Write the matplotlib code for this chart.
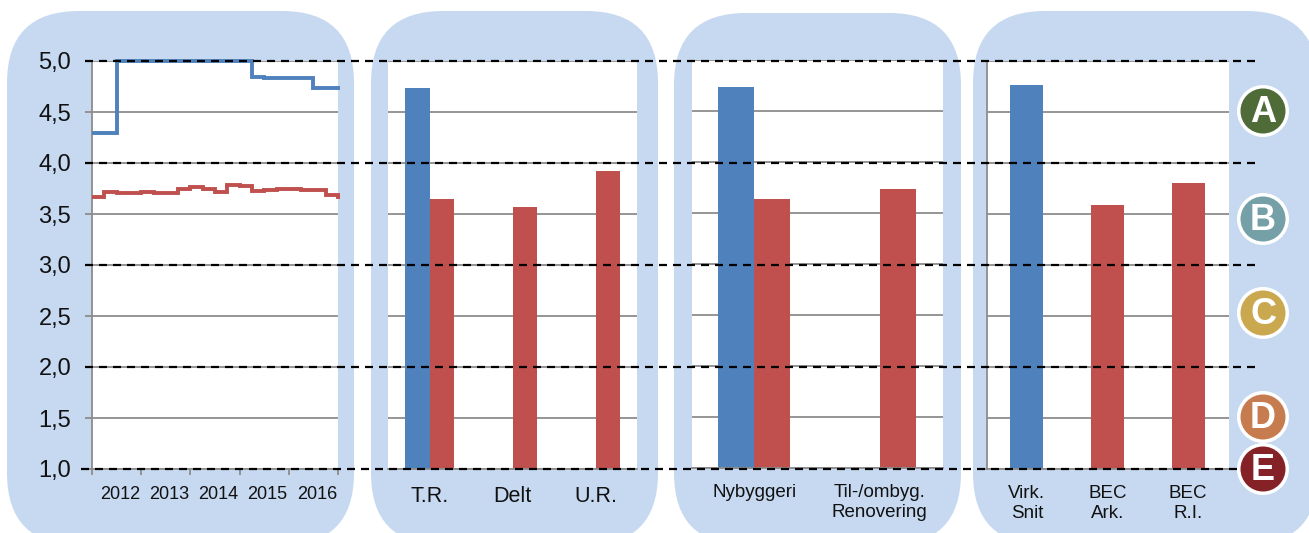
import numpy as np
import matplotlib
matplotlib.use("Agg")
import matplotlib.pyplot as plt
from matplotlib.patches import FancyBboxPatch, Circle

plt.rcParams['font.family'] = ['Liberation Sans', 'DejaVu Sans']

W, H = 1309, 533

# quarterly values, 2012 - 2016 (line runs a little past the plot area)
quarters = np.append(np.arange(21) / 4, 5.04)
blue_line = [4.29, 4.29, 5.0, 5.0, 5.0, 5.0, 5.0, 5.0, 5.0, 5.0, 5.0, 5.0, 5.0,
             4.84, 4.83, 4.83, 4.83, 4.83, 4.74, 4.74, 4.74, 4.74]
red_line = [3.67, 3.72, 3.71, 3.71, 3.72, 3.71, 3.71, 3.75, 3.76, 3.75, 3.72, 3.78, 3.77,
            3.73, 3.74, 3.75, 3.75, 3.74, 3.74, 3.69, 3.67, 3.67]
years = ['2012', '2013', '2014', '2015', '2016']

cats_2 = ['T.R.', 'Delt', 'U.R.']
blue_2 = [4.74, np.nan, np.nan]
red_2 = [3.65, 3.57, 3.92]

cats_3 = ['Nybyggeri', 'Til-/ombyg.\nRenovering']
blue_3 = [4.74, np.nan]
red_3 = [3.64, 3.74]

cats_4 = ['Virk.\nSnit', 'BEC\nArk.', 'BEC\nR.I.']
vals_4 = [4.76, 3.59, 3.80]
colors_4 = ['#4F81BD', '#C0504D', '#C0504D']

yticks = [1, 1.5, 2, 2.5, 3, 3.5, 4, 4.5, 5]
ylabels = ['1,0', '1,5', '2,0', '2,5', '3,0', '3,5', '4,0', '4,5', '5,0']
grades = ['A', 'B', 'C', 'D', 'E']
grade_colors = ['#4F6B38', '#75A0A8', '#C9A850', '#C77C50', '#842228']
grade_y = [111, 219, 313, 417, 469]

BLUE = '#4F81BD'
RED = '#C0504D'
GRID = '#8C8C8C'
PANEL = '#C6D9F1'
TEXT = '#111111'

fig = plt.figure(figsize=(W / 100, H / 100), dpi=100, facecolor='white')

# background layer in pixels
bg = fig.add_axes([0, 0, 1, 1], zorder=0)
bg.set_xlim(0, W)
bg.set_ylim(H, 0)
bg.axis('off')
R = 72
for x0, x1, y0 in [(7, 354, 11), (371, 658, 11), (674, 961, 13), (973, 1318, 11)]:
    bg.add_patch(FancyBboxPatch((x0 + R, y0 + R), x1 - x0 - 2 * R, 545 - y0 - 2 * R,
                                boxstyle=f'round,pad={R},rounding_size={R}',
                                fc=PANEL, ec='none'))


def make_axes(x0, x1, top=61, bottom=469):
    ax = fig.add_axes([x0 / W, 1 - bottom / H, (x1 - x0) / W, (bottom - top) / H], zorder=1)
    ax.set_facecolor('white')
    ax.set_ylim(1, 5)
    ax.set_yticks(yticks)
    ax.grid(axis='y', color=GRID, lw=1.3, zorder=1)
    ax.set_axisbelow(True)
    for s in ['top', 'right', 'left']:
        ax.spines[s].set_visible(False)
    ax.spines['bottom'].set_color(GRID)
    ax.spines['bottom'].set_linewidth(1.3)
    ax.tick_params(axis='y', length=0, labelleft=False)
    ax.tick_params(axis='x', length=0)
    return ax


# panel 1: lines
ax1 = make_axes(92, 338)
ax1.set_xlim(0, 5)
for vals, col in [(blue_line, BLUE), (red_line, RED)]:
    ax1.step(quarters, vals, where='post', color=col, lw=2.8, clip_on=False, zorder=3,
             solid_joinstyle='miter', solid_capstyle='butt')
ax1.spines['left'].set_visible(True)
ax1.spines['left'].set_color(GRID)
ax1.spines['left'].set_linewidth(1.3)
ax1.set_yticks(yticks)
ax1.set_yticklabels(ylabels)
ax1.tick_params(axis='y', length=5, width=1.3, color=GRID, labelleft=True, labelsize=17,
                pad=10, labelcolor=TEXT)
ax1.set_xticks(range(6))
ax1.set_xticklabels([])
ax1.tick_params(axis='x', length=4, width=1.3, color=GRID)
ax1.set_xticks(np.arange(5) + 0.57, labels=years, minor=True)
ax1.tick_params(axis='x', which='minor', length=0, labelsize=13, pad=12, labelcolor=TEXT)

# panel 2: clustered bars
ax2 = make_axes(388, 637)
x2 = np.arange(len(cats_2))
ax2.bar(x2 - 0.145, blue_2, 0.29, color=BLUE, zorder=2)
ax2.bar(x2 + 0.145, red_2, 0.29, color=RED, zorder=2)
ax2.set_xlim(-0.5, 2.5)
ax2.set_ylim(1, 5)
ax2.set_xticks(x2, labels=cats_2)
ax2.tick_params(axis='x', labelsize=15.5, pad=12, labelcolor=TEXT)

# panel 3
ax3 = make_axes(691.5, 942.5, top=60, bottom=468)
x3 = np.arange(len(cats_3))
ax3.bar(x3 - 0.143, blue_3, 0.286, color=BLUE, zorder=2)
ax3.bar(x3 + 0.143, red_3, 0.286, color=RED, zorder=2)
ax3.set_xlim(-0.5, 1.5)
ax3.set_ylim(1, 5)
ax3.set_xticks(x3, labels=cats_3)
ax3.tick_params(axis='x', labelsize=13.5, pad=11.5, labelcolor=TEXT)

# panel 4
ax4 = make_axes(986.5, 1228.5)
x4 = np.arange(len(cats_4))
ax4.bar(x4, vals_4, 0.41, color=colors_4, zorder=2)
ax4.set_xlim(-0.5, 2.5)
ax4.set_ylim(1, 5)
ax4.spines['left'].set_visible(True)
ax4.spines['left'].set_color(GRID)
ax4.spines['left'].set_linewidth(1.3)
ax4.set_xticks(x4, labels=cats_4)
ax4.tick_params(axis='x', labelsize=13.5, pad=11.5, labelcolor=TEXT)
for ax in (ax3, ax4):
    for t in ax.get_xticklabels():
        t.set_linespacing(1.2)

# overlay in pixels: dashed grade lines and grade badges
top = fig.add_axes([0, 0, 1, 1], zorder=5)
top.set_xlim(0, W)
top.set_ylim(H, 0)
top.axis('off')
for y, x0, x1 in [(61, 85, 1258), (163, 85, 1258), (265, 85, 1258), (367, 85, 1258), (469, 81, 1240)]:
    top.plot([x0, x1], [y, y], color='black', lw=1.6, dashes=(3.6, 2.7))
for g, c, y in zip(grades, grade_colors, grade_y):
    top.add_patch(Circle((1263, y), 26, fc='white', ec='none', zorder=6))
    top.add_patch(Circle((1263, y), 22.5, fc=c, ec='none', zorder=7))
    top.text(1263, y + 1, g, color='white', fontsize=26, fontweight='bold',
             ha='center', va='center', zorder=8)

fig.savefig('out.png', dpi=100)
